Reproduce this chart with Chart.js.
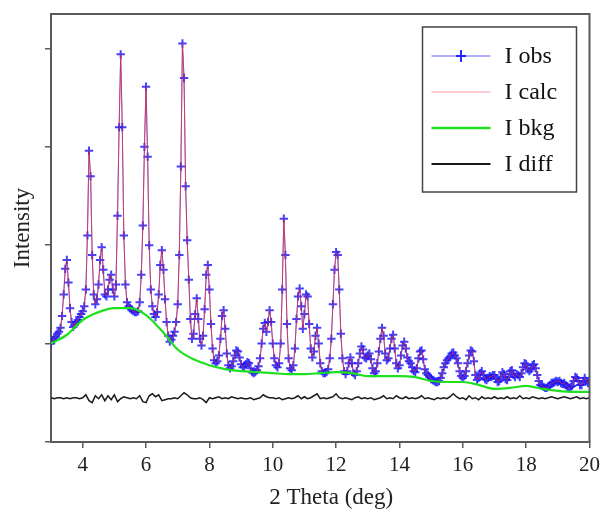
<!DOCTYPE html>
<html><head><meta charset="utf-8">
<script src="https://cdn.jsdelivr.net/npm/chart.js@4.4.0/dist/chart.umd.min.js"></script>
<style>html,body{margin:0;padding:0;background:#fff}#wrap{width:605px;height:512px}</style>
</head><body><div id="wrap"><canvas id="c" width="605" height="512"></canvas></div>
<script>
// ---- data ----
const obsStart = 3.0, obsStep = 0.05;   // 2-theta grid of the observed pattern
const iObs = [
 1.00,1.03,1.05,1.07,1.10,1.12,1.16,1.28,1.50,1.76,1.85,1.62,1.36,1.22,1.17,1.19,1.22,1.24,1.27,1.30, // 3
 1.33,1.38,1.55,2.10,2.96,2.70,1.90,1.50,1.40,1.45,1.60,1.85,1.98,1.75,1.50,1.48,1.55,1.65,1.70,1.55, // 4
 1.48,1.60,2.30,3.20,3.94,3.20,2.10,1.60,1.42,1.38,1.36,1.34,1.33,1.32,1.32,1.33,1.42,1.70,2.20,3.00, // 5
 3.61,2.90,2.00,1.55,1.38,1.30,1.27,1.32,1.50,1.80,1.95,1.75,1.45,1.22,1.08,1.02,1.04,1.08,1.12,1.22, // 6
 1.40,1.90,2.80,4.05,3.70,2.60,2.05,1.65,1.25,1.05,1.10,1.30,1.46,1.25,1.05,0.98,1.08,1.35,1.70,1.80, // 7
 1.55,1.20,0.95,0.83,0.80,0.82,0.88,1.05,1.28,1.34,1.15,0.90,0.78,0.75,0.77,0.82,0.88,0.93,0.92,0.86, // 8
 0.79,0.76,0.77,0.79,0.81,0.80,0.75,0.71,0.70,0.71,0.73,0.77,0.85,1.00,1.15,1.21,1.12,1.22,1.34,1.22, // 9
 1.00,0.85,0.78,0.76,0.80,1.00,1.55,2.27,1.90,1.20,0.85,0.75,0.73,0.78,0.95,1.25,1.48,1.56,1.38,1.15, // 10
 1.30,1.50,1.48,1.20,0.95,0.86,0.92,1.08,1.16,1.00,0.80,0.72,0.70,0.70,0.71,0.74,0.85,1.05,1.40,1.75, // 11
 1.93,1.90,1.55,1.10,0.85,0.72,0.69,0.72,0.80,0.86,0.80,0.70,0.68,0.72,0.80,0.90,0.97,0.94,0.86,0.85, // 12
 0.88,0.90,0.84,0.75,0.70,0.72,0.80,0.92,1.05,1.16,1.08,0.90,0.83,0.85,0.95,1.05,1.09,0.95,0.80,0.75, // 13
 0.78,0.88,0.98,1.02,0.95,0.86,0.82,0.80,0.76,0.72,0.71,0.75,0.85,0.92,0.93,0.84,0.74,0.70,0.68,0.66, // 14
 0.64,0.63,0.62,0.61,0.61,0.62,0.65,0.70,0.76,0.80,0.83,0.85,0.87,0.90,0.91,0.88,0.85,0.80,0.72,0.67, // 15
 0.65,0.67,0.72,0.80,0.88,0.93,0.92,0.82,0.68,0.63,0.65,0.70,0.72,0.68,0.64,0.63,0.65,0.67,0.66,0.68, // 16
 0.68,0.64,0.61,0.62,0.66,0.71,0.69,0.64,0.63,0.66,0.72,0.73,0.68,0.66,0.69,0.68,0.66,0.70,0.76,0.80, // 17
 0.79,0.74,0.72,0.74,0.78,0.79,0.75,0.68,0.62,0.58,0.57,0.56,0.55,0.55,0.56,0.58,0.60,0.60,0.61,0.62, // 18
 0.61,0.62,0.60,0.59,0.60,0.58,0.56,0.55,0.56,0.57,0.62,0.66,0.65,0.62,0.58,0.58,0.62,0.65,0.62,0.60,0.62 // 19-20
];
const iCalc = iObs; // calculated profile lies on the observed points

const bkgX = [3,3.5,4,4.5,5,5.5,6,6.5,7,7.5,8,8.5,9,9.5,10,10.5,11,11.5,12,12.5,13,13.5,14,14.5,15,15.5,16,16.5,17,17.5,18,18.5,19,19.5,20];
const iBkg = [1.00,1.09,1.24,1.32,1.36,1.36,1.29,1.13,0.94,0.84,0.78,0.74,0.72,0.71,0.70,0.69,0.69,0.70,0.71,0.70,0.67,0.67,0.67,0.66,0.62,0.61,0.61,0.58,0.54,0.55,0.57,0.54,0.52,0.51,0.51];

const diffStart = 3.0, diffStep = 0.1;
const iDiff = [
 0.45,0.44,0.45,0.45,0.44,0.45,0.44,0.45,0.45,0.44,
 0.45,0.48,0.42,0.40,0.47,0.44,0.48,0.42,0.47,0.43,
 0.48,0.41,0.44,0.46,0.45,0.44,0.45,0.44,0.47,0.41,
 0.40,0.47,0.49,0.46,0.48,0.42,0.43,0.44,0.44,0.45,
 0.44,0.47,0.50,0.48,0.45,0.44,0.44,0.45,0.43,0.40,
 0.45,0.44,0.45,0.46,0.44,0.45,0.44,0.46,0.45,0.44,
 0.45,0.44,0.44,0.45,0.43,0.44,0.45,0.48,0.46,0.45,
 0.45,0.44,0.45,0.43,0.44,0.45,0.44,0.45,0.47,0.44,
 0.46,0.44,0.45,0.47,0.49,0.44,0.45,0.44,0.45,0.46,
 0.49,0.45,0.44,0.45,0.44,0.43,0.45,0.46,0.44,0.45,
 0.44,0.45,0.43,0.44,0.45,0.47,0.44,0.45,0.44,0.47,
 0.45,0.44,0.46,0.44,0.45,0.44,0.45,0.47,0.44,0.45,
 0.44,0.43,0.45,0.44,0.45,0.44,0.46,0.49,0.46,0.44,
 0.45,0.43,0.47,0.44,0.45,0.43,0.46,0.44,0.45,0.44,
 0.46,0.44,0.45,0.44,0.46,0.44,0.45,0.44,0.47,0.44,
 0.45,0.44,0.46,0.45,0.44,0.45,0.44,0.45,0.46,0.45,
 0.44,0.45,0.46,0.45,0.44,0.45,0.46,0.44,0.45,0.44,0.45
];

const xTicks = [4,6,8,10,12,14,16,18,20];
const yTicks = [0,1,2,3,4];
const seriesNames = ['I obs','I calc','I bkg','I diff'];
const xTitle = '2 Theta (deg)';
const yTitle = 'Intensity';

// ---- build point lists ----
const toPts = (start, step, ys) => ys.map((y,i)=>({x:+(start+i*step).toFixed(3), y}));
const obsPts = toPts(obsStart, obsStep, iObs);
const calcPts = toPts(obsStart, obsStep, iCalc);
const bkgPts = bkgX.map((x,i)=>({x, y:iBkg[i]}));
const diffPts = toPts(diffStart, diffStep, iDiff);

const SERIF = "'Liberation Serif','Times New Roman',serif";
const axisColor = '#5a5a5a';

const framePlugin = {
  id:'frame',
  afterDatasetsDraw(chart){
    const {ctx, chartArea:a} = chart;
    ctx.save();
    ctx.strokeStyle = axisColor; ctx.lineWidth = 2;
    ctx.beginPath();
    ctx.moveTo(a.left, a.top); ctx.lineTo(a.right, a.top); ctx.lineTo(a.right, a.bottom);
    ctx.stroke();
    // x-axis title (sits slightly right of the plot centre in the original)
    ctx.fillStyle = '#222';
    ctx.font = '23px ' + SERIF;
    ctx.textAlign = 'center'; ctx.textBaseline = 'middle';
    ctx.fillText(xTitle, (a.left + a.right)/2 + 11, 498);
    ctx.restore();
  }
};

const legendStyles = [
  {color:'rgba(70,70,255,0.85)', width:1.2, cross:true},
  {color:'rgba(245,140,150,0.85)', width:1.2},
  {color:'#1fe01f', width:2.5},
  {color:'#1a1a1a', width:2}
];

const legendPlugin = {
  id:'boxLegend',
  afterDraw(chart){
    const {ctx, chartArea:a} = chart;
    const bx = a.right - 167, by = a.top + 13, bw = 154, bh = 165;
    ctx.save();
    ctx.fillStyle = '#fff';
    ctx.fillRect(bx, by, bw, bh);
    ctx.strokeStyle = '#444'; ctx.lineWidth = 1.5;
    ctx.strokeRect(bx, by, bw, bh);
    seriesNames.forEach((name,i)=>{
      const y = by + 29 + i*36;
      const st = legendStyles[i];
      ctx.strokeStyle = st.color; ctx.lineWidth = st.width;
      ctx.beginPath(); ctx.moveTo(bx+9, y); ctx.lineTo(bx+68, y); ctx.stroke();
      if (st.cross){
        ctx.strokeStyle = 'rgba(20,20,255,0.9)'; ctx.lineWidth = 2;
        ctx.beginPath();
        ctx.moveTo(bx+38.5-5, y); ctx.lineTo(bx+38.5+5, y);
        ctx.moveTo(bx+38.5, y-6); ctx.lineTo(bx+38.5, y+6);
        ctx.stroke();
      }
      ctx.fillStyle = '#111';
      ctx.font = '24px ' + SERIF;
      ctx.textAlign = 'left';
      ctx.textBaseline = 'middle';
      ctx.fillText(name, bx+82, y+1);
    });
    ctx.restore();
  }
};

const gridOpts = {display:true, drawOnChartArea:false, drawTicks:true, tickLength:6, color:axisColor, lineWidth:1.5};

new Chart(document.getElementById('c'), {
  type:'line',
  data:{datasets:[
    {label:seriesNames[0], data:obsPts, order:4, borderColor:'rgba(70,70,255,0.8)', borderWidth:1,
     pointStyle:'cross', pointRadius:4.2, pointBorderWidth:2, pointBorderColor:'rgba(25,25,255,0.82)', pointBackgroundColor:'rgba(0,0,0,0)'},
    {label:seriesNames[1], data:calcPts, order:3, borderColor:'rgba(225,45,60,0.75)', borderWidth:1, pointRadius:0},
    {label:seriesNames[2], data:bkgPts, order:2, borderColor:'#1fe01f', borderWidth:2.2, pointRadius:0, cubicInterpolationMode:'monotone'},
    {label:seriesNames[3], data:diffPts, order:1, borderColor:'#1a1a1a', borderWidth:1.5, pointRadius:0}
  ]},
  options:{
    responsive:false, animation:false, devicePixelRatio:1,
    layout:{padding:{top:14,right:10,bottom:0,left:0}},
    plugins:{legend:{display:false}, tooltip:{enabled:false}},
    scales:{
      x:{type:'linear', min:3, max:20,
        afterBuildTicks:s=>{ s.ticks = xTicks.map(v=>({value:v})); },
        afterFit:s=>{ s.height = 70; },
        grid:gridOpts, border:{display:true, color:axisColor, width:2},
        ticks:{font:{family:SERIF, size:21}, color:'#222', padding:5, maxRotation:0, autoSkip:false},
        title:{display:false}
      },
      y:{type:'linear', min:0, max:4.35,
        afterBuildTicks:s=>{ s.ticks = yTicks.map(v=>({value:v})); },
        afterFit:s=>{ s.width = 51; },
        grid:gridOpts, border:{display:true, color:axisColor, width:2},
        ticks:{display:false},
        title:{display:true, text:yTitle, font:{family:SERIF, size:23}, color:'#222', padding:{top:9,bottom:0}}
      }
    }
  },
  plugins:[framePlugin, legendPlugin]
});
</script></body></html>
